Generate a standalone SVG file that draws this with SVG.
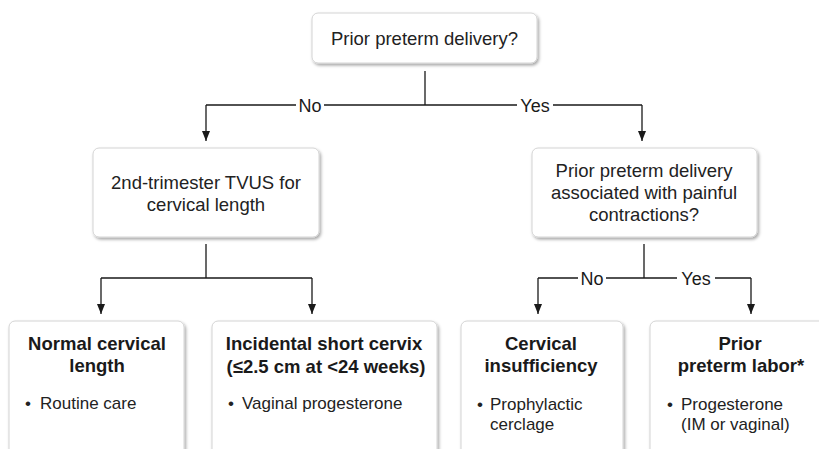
<svg xmlns="http://www.w3.org/2000/svg" width="819" height="449" viewBox="0 0 819 449">
  <defs>
    <marker id="arrow" viewBox="0 0 10 8" refX="10" refY="4" markerWidth="10" markerHeight="8" markerUnits="userSpaceOnUse" orient="auto">
      <path d="M0,0 L10,4 L0,8 z" fill="#1a1a1a"/>
    </marker>
    <filter id="shadow" x="-10%" y="-10%" width="120%" height="130%">
      <feDropShadow dx="1.5" dy="2" stdDeviation="1.4" flood-color="#000" flood-opacity="0.35"/>
    </filter>
  </defs>
  <style>
    .box { fill: #ffffff; stroke: #d4d4d4; stroke-width: 1; filter: url(#shadow); }
    .q { font-family: "Liberation Sans", Arial, sans-serif; font-size: 18.5px; fill: #222; text-anchor: middle; }
    .t { font-family: "Liberation Sans", Arial, sans-serif; font-size: 18.5px; font-weight: bold; fill: #1a1a1a; text-anchor: middle; }
    .b { font-family: "Liberation Sans", Arial, sans-serif; font-size: 17px; fill: #222; }
    .lbl { font-family: "Liberation Sans", Arial, sans-serif; font-size: 18px; fill: #1a1a1a; text-anchor: middle; }
    .ln { fill: none; stroke: #1a1a1a; stroke-width: 1.3; }
  </style>
  <rect width="819" height="449" fill="#ffffff"/>

  <!-- connectors -->
  <g id="connectors">
    <path class="ln" d="M425,71 V105"/>
    <path class="ln" d="M206,105 H296 M324,105 H517 M553,105 H642"/>
    <path class="ln" d="M206,105 V141" marker-end="url(#arrow)"/>
    <path class="ln" d="M642,105 V141" marker-end="url(#arrow)"/>
    <text class="lbl" x="310" y="111.5">No</text>
    <text class="lbl" x="535" y="111.5">Yes</text>

    <path class="ln" d="M206,244 V278 M101,278 H312"/>
    <path class="ln" d="M101,278 V314" marker-end="url(#arrow)"/>
    <path class="ln" d="M312,278 V314" marker-end="url(#arrow)"/>

    <path class="ln" d="M644,244 V278 M538,278 H578 M606,278 H677 M715,278 H751"/>
    <path class="ln" d="M538,278 V314" marker-end="url(#arrow)"/>
    <path class="ln" d="M751,278 V314" marker-end="url(#arrow)"/>
    <text class="lbl" x="592" y="284.5">No</text>
    <text class="lbl" x="696" y="284.5">Yes</text>
  </g>

  <!-- decision: prior preterm delivery -->
  <g id="node-prior-delivery">
    <rect class="box" x="312" y="13" width="225" height="50" rx="6"/>
    <text class="q" x="424.5" y="44.5">Prior preterm delivery?</text>
  </g>

  <!-- screening by ultrasound -->
  <g id="node-tvus">
    <rect class="box" x="93" y="148" width="226" height="89" rx="6"/>
    <text class="q" x="206" y="189">2nd-trimester TVUS for</text>
    <text class="q" x="206" y="211">cervical length</text>
  </g>

  <!-- decision: painful contractions -->
  <g id="node-contractions">
    <rect class="box" x="532" y="148" width="225" height="89" rx="6"/>
    <text class="q" x="644" y="177">Prior preterm delivery</text>
    <text class="q" x="644" y="199">associated with painful</text>
    <text class="q" x="644" y="221">contractions?</text>
  </g>

  <!-- outcome boxes -->
  <g id="node-normal">
    <rect class="box" x="9" y="321" width="175" height="140" rx="6"/>
    <text class="t" x="97" y="350">Normal cervical</text>
    <text class="t" x="97" y="372">length</text>
    <text class="b" x="25" y="409">•</text>
    <text class="b" x="40" y="409">Routine care</text>
  </g>

  <g id="node-short-cervix">
    <rect class="box" x="212" y="321" width="225" height="140" rx="6"/>
    <text class="t" x="324" y="350">Incidental short cervix</text>
    <text class="t" x="326" y="373">(≤2.5 cm at &lt;24 weeks)</text>
    <text class="b" x="228" y="409">•</text>
    <text class="b" x="242" y="409">Vaginal progesterone</text>
  </g>

  <g id="node-insufficiency">
    <rect class="box" x="461" y="321" width="162" height="140" rx="6"/>
    <text class="t" x="541" y="350">Cervical</text>
    <text class="t" x="541" y="372">insufficiency</text>
    <text class="b" x="477" y="410">•</text>
    <text class="b" x="490" y="410">Prophylactic</text>
    <text class="b" x="490" y="430">cerclage</text>
  </g>

  <g id="node-preterm-labor">
    <rect class="box" x="650" y="321" width="180" height="140" rx="6"/>
    <text class="t" x="740" y="350">Prior</text>
    <text class="t" x="741" y="372">preterm labor*</text>
    <text class="b" x="667" y="410">•</text>
    <text class="b" x="681" y="410">Progesterone</text>
    <text class="b" x="681" y="430">(IM or vaginal)</text>
  </g>
</svg>
